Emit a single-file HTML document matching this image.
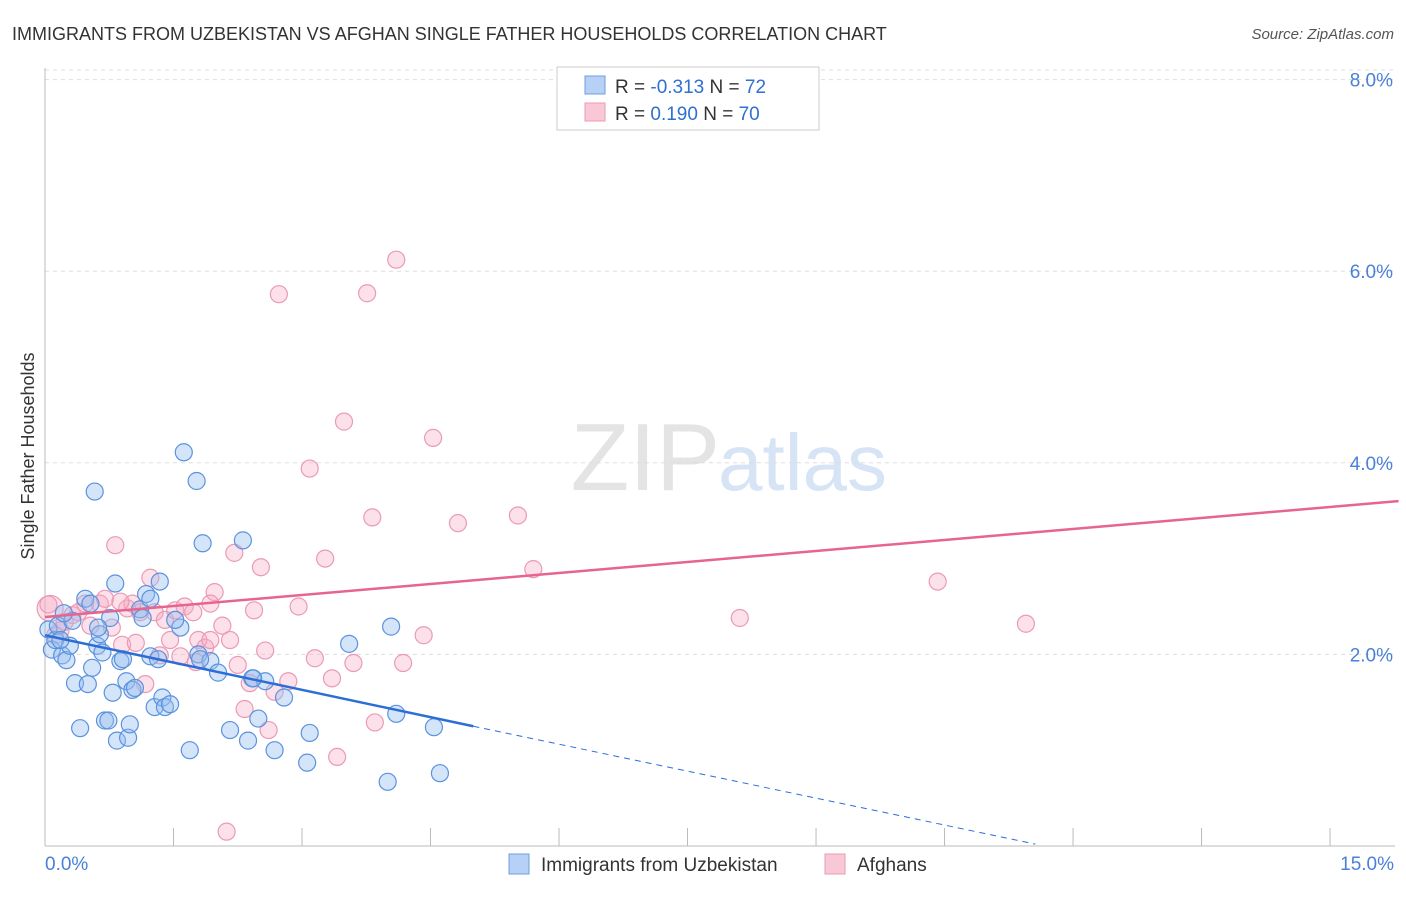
<!DOCTYPE html>
<html><head><meta charset="utf-8"><style>
body{margin:0;background:#fff;font-family:"Liberation Sans",sans-serif;}
svg text{font-family:"Liberation Sans",sans-serif;}
</style></head><body>
<svg id="c" width="1406" height="892" xmlns="http://www.w3.org/2000/svg">
<text x="12" y="40" font-size="18" fill="#333">IMMIGRANTS FROM UZBEKISTAN VS AFGHAN SINGLE FATHER HOUSEHOLDS CORRELATION CHART</text>
<text x="1394" y="39" font-size="15" fill="#555" font-style="italic" text-anchor="end">Source: ZipAtlas.com</text>
<text x="720" y="490" font-size="96" fill="#e4e4e4" text-anchor="end" font-family="Liberation Serif">ZIP</text>
<text x="718" y="490" font-size="80" fill="#d6e4f5">atlas</text>
<g id="grid"></g>
<g id="axes"></g>
<g id="pts"></g>
<g id="trend"></g>
<text transform="translate(34,456) rotate(-90)" font-size="18" fill="#333" text-anchor="middle">Single Father Households</text>
<g>
<rect x="557" y="67" width="262" height="63" fill="#fff" stroke="#ccc"/>
<rect x="585" y="76" width="20" height="18" fill="#b6d1f5" stroke="#6c9de0"/>
<rect x="585" y="103" width="20" height="18" fill="#f9c8d6" stroke="#ec9ab3"/>
<text x="615" y="93" font-size="19" fill="#333">R = <tspan fill="#2f6fd0">-0.313</tspan>   N = <tspan fill="#2f6fd0">72</tspan></text>
<text x="615" y="120" font-size="19" fill="#333">R =  <tspan fill="#2f6fd0">0.190</tspan>   N = <tspan fill="#2f6fd0">70</tspan></text>
</g>
<g>
<rect x="509" y="854" width="20" height="20" fill="#b6d1f5" stroke="#6c9de0"/>
<text x="541" y="871" font-size="19" fill="#333">Immigrants from Uzbekistan</text>
<rect x="825" y="854" width="20" height="20" fill="#f9c8d6" stroke="#ec9ab3"/>
<text x="857" y="871" font-size="19" fill="#333">Afghans</text>
</g>
</svg>
<script>
const xTicks=[0,1.5,3,4.5,6,7.5,9,10.5,12,13.5,15];
const yTicks=[2,4,6,8];
const yTickLabels=["2.0%","4.0%","6.0%","8.0%"];
const blueX=[0.04,0.08,0.12,0.15,0.2,0.25,0.29,0.32,0.35,0.41,0.47,0.5,0.53,0.55,0.58,0.61,0.64,0.67,0.7,0.74,0.79,0.82,0.84,0.88,0.91,0.95,0.97,0.99,1.02,1.05,1.11,1.14,1.18,1.23,1.28,1.34,1.37,1.4,1.46,1.58,1.62,1.69,1.77,1.79,1.84,1.93,2.02,2.16,2.31,2.37,2.42,2.49,2.57,2.68,2.79,3.06,3.09,3.55,4.0,4.04,4.1,4.54,4.61,1.32,0.22,0.76,1.52,1.81,2.43,1.23,0.62,0.18];
const blueY=[2.26,2.05,2.15,2.3,1.99,1.94,2.09,2.35,1.7,1.23,2.58,1.69,2.53,1.86,3.7,2.09,2.21,2.02,1.31,1.31,1.6,2.74,1.1,1.93,1.95,1.72,1.13,1.27,1.63,1.65,2.47,2.38,2.63,1.98,1.45,2.76,1.55,1.45,1.48,2.28,4.11,1.0,3.81,2.0,3.16,1.93,1.81,1.21,3.19,1.1,1.75,1.33,1.72,1.0,1.55,0.87,1.18,2.11,0.67,2.29,1.38,1.24,0.76,1.95,2.43,2.38,2.36,1.95,1.75,2.58,2.28,2.15];
const pinkX=[0.06,0.12,0.18,0.23,0.32,0.39,0.47,0.53,0.64,0.7,0.82,0.78,0.9,0.96,1.02,1.06,1.11,1.17,1.23,1.28,1.34,1.4,1.46,1.52,1.58,1.63,1.73,1.76,1.79,1.87,1.93,1.98,2.07,2.12,2.16,2.21,2.25,2.33,2.39,2.44,2.52,2.57,2.61,2.68,2.73,2.84,2.96,3.09,3.15,3.27,3.35,3.41,3.49,3.6,3.76,3.82,3.85,4.1,4.18,4.42,4.53,4.82,5.52,5.7,8.11,10.42,11.45,0.04,0.88,1.93];
const pinkY=[2.48,2.2,2.25,2.34,2.41,2.44,2.53,2.3,2.53,2.58,3.14,2.28,2.1,2.48,2.53,2.12,2.44,1.69,2.8,2.44,1.99,2.36,2.15,2.46,1.98,2.5,2.44,1.92,2.15,2.07,2.15,2.65,2.3,0.15,2.15,3.06,1.89,1.43,1.7,2.46,2.91,2.04,1.21,1.61,5.76,1.72,2.5,3.94,1.96,3.0,1.75,0.93,4.43,1.91,5.77,3.43,1.29,6.12,1.91,2.2,4.26,3.37,3.45,2.89,2.38,2.76,2.32,2.52,2.55,2.53];
const X=v=>45+v*85.67, Y=v=>846-v*95.8;
const NS="http://www.w3.org/2000/svg";
function mk(t,a,p){const e=document.createElementNS(NS,t);for(const k in a)e.setAttribute(k,a[k]);p.appendChild(e);return e;}
const g=document.getElementById('grid'),ax=document.getElementById('axes'),pts=document.getElementById('pts'),tr=document.getElementById('trend');
mk('line',{x1:45,y1:Y(8.1),x2:1395,y2:Y(8.1),stroke:'#ddd','stroke-dasharray':'4,4'},g);
yTicks.forEach((v,i)=>{
 const l=mk('line',{x1:45,y1:Y(v),x2:1395,y2:Y(v),stroke:'#ddd','stroke-dasharray':'4,4'},g);
 
 
 const t=mk('text',{x:1393,y:Y(v)+7,'font-size':19,fill:'#4a80d8','text-anchor':'end'},ax);
 t.textContent=yTickLabels[i];
 
 
});
mk('line',{x1:45,y1:68,x2:45,y2:846,stroke:'#bbb'},ax);
mk('line',{x1:45,y1:846,x2:1395,y2:846,stroke:'#bbb'},ax);
xTicks.forEach(v=>{
 const l=mk('line',{x1:X(v),y1:828,x2:X(v),y2:846,stroke:'#bbb'},ax);
 
 
});
const t0=mk('text',{x:45,y:870,'font-size':19,fill:'#4a80d8'},ax);t0.textContent='0.0%';


const t1=mk('text',{x:1394,y:870,'font-size':19,fill:'#4a80d8','text-anchor':'end'},ax);t1.textContent='15.0%';


pinkX.forEach((x,i)=>{
 const c=mk('circle',{cx:X(x),cy:Y(pinkY[i]),r:i==0?13:8.5,fill:'rgba(246,170,195,0.35)',stroke:'#eb9ab4','stroke-width':1.2},pts);
 
 
});
blueX.forEach((x,i)=>{
 const c=mk('circle',{cx:X(x),cy:Y(blueY[i]),r:8.5,fill:'rgba(150,190,240,0.4)',stroke:'#5b92de','stroke-width':1.2},pts);
 
 
});
const bl=mk('line',{x1:X(0),y1:Y(2.2),x2:X(5),y2:Y(1.25),stroke:'#2b6fd6','stroke-width':2.5},tr);


const bd=mk('line',{x1:X(5),y1:Y(1.25),x2:X(11.56),y2:Y(0.02),stroke:'#2b6fd6','stroke-width':1,'stroke-dasharray':'6,5'},tr);


const pl=mk('line',{x1:X(0),y1:Y(2.39),x2:X(15.8),y2:Y(3.6),stroke:'#e6658f','stroke-width':2.5},tr);


</script>
</body></html>
